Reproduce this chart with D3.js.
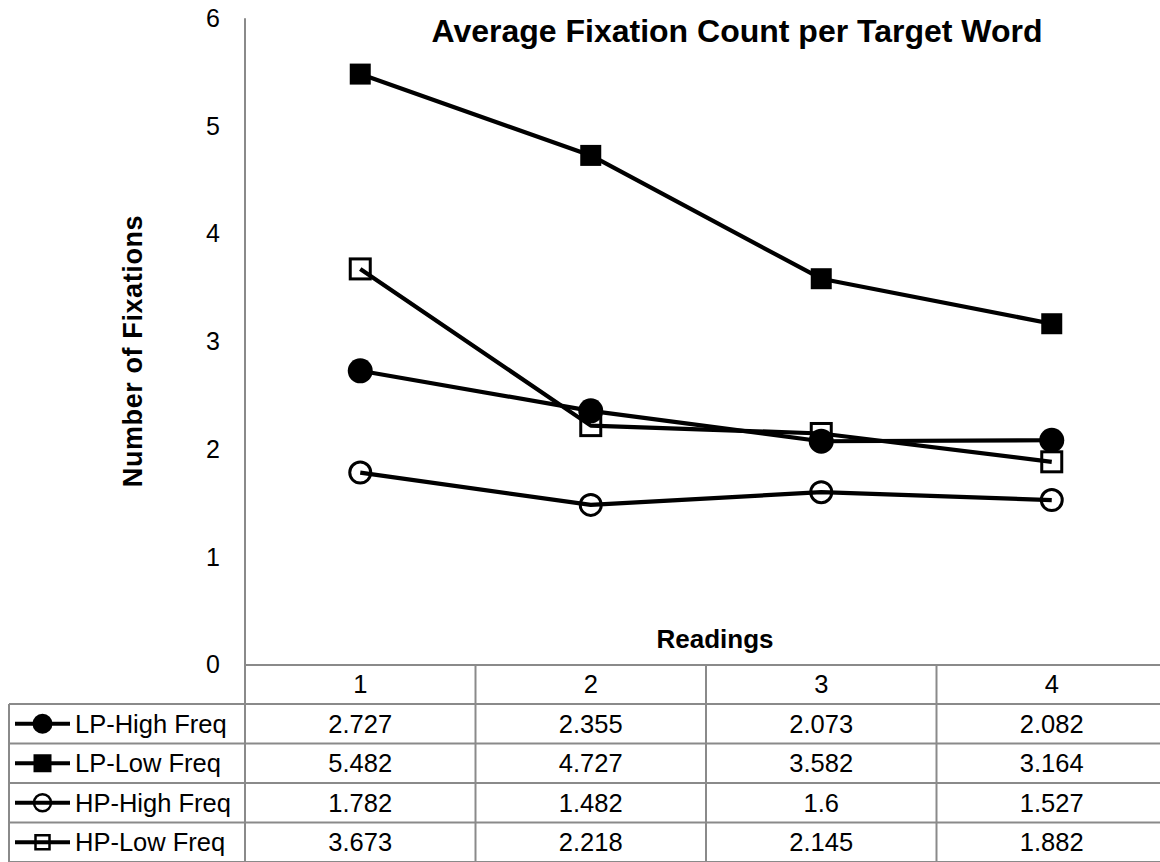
<!DOCTYPE html>
<html>
<head>
<meta charset="utf-8">
<script src="https://cdn.jsdelivr.net/npm/d3@7"></script>
<style>
  html, body { margin: 0; padding: 0; background: #fff; }
  svg { display: block; font-family: "Liberation Sans", Arial, sans-serif; }
</style>
</head>
<body>
<svg id="chart" width="1160" height="862"></svg>
<script>
// Readings on the x axis
const readings = ["1", "2", "3", "4"];
// Series names, in table order
const seriesNames = ["LP-High Freq", "LP-Low Freq", "HP-High Freq", "HP-Low Freq"];
// Average fixation counts per reading
const lpHigh = [2.727, 2.355, 2.073, 2.082];
const lpLow  = [5.482, 4.727, 3.582, 3.164];
const hpHigh = [1.782, 1.482, 1.6, 1.527];
const hpLow  = [3.673, 2.218, 2.145, 1.882];
// Y axis ticks
const yTicks = [0, 1, 2, 3, 4, 5, 6];

const seriesValues = [lpHigh, lpLow, hpHigh, hpLow];
const markerShape = ["circle", "square", "circle", "square"];
const markerFilled = [true, true, false, false];

const svg = d3.select("#chart");
const gridColor = "#8a8a8a";

const plotLeft = 245, plotRight = 1167;
const yTop = 18.3, yZero = 664.5;
const tableLeft = 9;
const rowLines = [665, 704, 743.5, 783, 822.5, 862];
const cellFont = 25.5;

const x = d3.scaleBand().domain(readings).range([plotLeft, plotRight]);
const y = d3.scaleLinear().domain([0, 6]).range([yZero, yTop]);

// Title
svg.append("text")
  .attr("x", 737).attr("y", 42)
  .attr("text-anchor", "middle")
  .attr("font-weight", "bold").attr("font-size", 32)
  .text("Average Fixation Count per Target Word");

// Y axis line
svg.append("line")
  .attr("x1", plotLeft).attr("x2", plotLeft)
  .attr("y1", yTop).attr("y2", 862)
  .attr("stroke", gridColor).attr("stroke-width", 2);

// Y tick labels
svg.append("g").selectAll("text").data(yTicks).join("text")
  .attr("x", 220).attr("y", d => y(d))
  .attr("dy", "0.35em")
  .attr("text-anchor", "end")
  .attr("font-size", 25)
  .text(d => d);

// Y axis title
svg.append("text")
  .attr("transform", `translate(142,351) rotate(-90)`)
  .attr("text-anchor", "middle")
  .attr("font-weight", "bold").attr("font-size", 27)
  .attr("letter-spacing", 0.6)
  .text("Number of Fixations");

// X axis title
svg.append("text")
  .attr("x", 715).attr("y", 648)
  .attr("text-anchor", "middle")
  .attr("font-weight", "bold").attr("font-size", 26)
  .text("Readings");

// Data table grid
const tbl = svg.append("g").attr("stroke", gridColor).attr("stroke-width", 2);
rowLines.forEach((ry, i) => {
  tbl.append("line")
    .attr("x1", i === 0 ? plotLeft : tableLeft).attr("x2", 1160)
    .attr("y1", ry).attr("y2", ry);
});
tbl.append("line")
  .attr("x1", tableLeft).attr("x2", tableLeft)
  .attr("y1", rowLines[1]).attr("y2", 862);
readings.forEach(r => {
  const xr = x(r) + x.bandwidth();
  tbl.append("line")
    .attr("x1", xr).attr("x2", xr)
    .attr("y1", rowLines[0]).attr("y2", 862);
});

// Header row: reading numbers
svg.append("g").selectAll("text").data(readings).join("text")
  .attr("x", d => x(d) + x.bandwidth() / 2)
  .attr("y", (rowLines[0] + rowLines[1]) / 2)
  .attr("dy", "0.35em")
  .attr("text-anchor", "middle")
  .attr("font-size", cellFont)
  .text(d => d);

// Draws a marker of the given shape at (cx, cy)
function drawMarker(g, shape, filled, cx, cy, size, sw) {
  let m;
  if (shape === "circle") {
    m = g.append("circle").attr("cx", cx).attr("cy", cy).attr("r", size / 2);
  } else {
    m = g.append("rect")
      .attr("x", cx - size / 2).attr("y", cy - size / 2)
      .attr("width", size).attr("height", size);
  }
  if (filled) m.attr("fill", "#000").attr("stroke", "none");
  else m.attr("fill", "none").attr("stroke", "#000").attr("stroke-width", sw);
}

// Table rows: legend key, name, values
seriesNames.forEach((name, i) => {
  const top = rowLines[i + 1], bot = rowLines[i + 2];
  const cy = (top + bot) / 2;
  const g = svg.append("g");
  g.append("line")
    .attr("x1", 15).attr("x2", 70)
    .attr("y1", cy).attr("y2", cy)
    .attr("stroke", "#000").attr("stroke-width", 4);
  const sz = markerShape[i] === "circle" ? (markerFilled[i] ? 20 : 17) : (markerFilled[i] ? 18 : 14);
  drawMarker(g, markerShape[i], markerFilled[i], 42.5, cy, sz, 2.5);
  g.append("text")
    .attr("x", 75).attr("y", cy).attr("dy", "0.35em")
    .attr("font-size", cellFont)
    .text(name);
  g.selectAll("text.val").data(seriesValues[i]).join("text")
    .attr("class", "val")
    .attr("x", (d, j) => x(readings[j]) + x.bandwidth() / 2)
    .attr("y", cy).attr("dy", "0.35em")
    .attr("text-anchor", "middle")
    .attr("font-size", cellFont)
    .text(d => d);
});

// Series lines
const line = d3.line()
  .x((d, j) => x(readings[j]) + x.bandwidth() / 2)
  .y(d => y(d));
const lines = svg.append("g");
seriesValues.forEach(vals => {
  lines.append("path")
    .datum(vals)
    .attr("d", line)
    .attr("fill", "none")
    .attr("stroke", "#000")
    .attr("stroke-width", 4.2)
    .attr("stroke-linejoin", "round");
});

// Series markers: hollow ones first, filled ones on top
const markers = svg.append("g");
[3, 2, 1, 0].forEach(i => {
  seriesValues[i].forEach((v, j) => {
    const cx = x(readings[j]) + x.bandwidth() / 2;
    const sz = markerShape[i] === "circle" ? (markerFilled[i] ? 25 : 21) : (markerFilled[i] ? 21 : 20);
    drawMarker(markers, markerShape[i], markerFilled[i], cx, y(v), sz, 3);
  });
});
</script>
</body>
</html>
